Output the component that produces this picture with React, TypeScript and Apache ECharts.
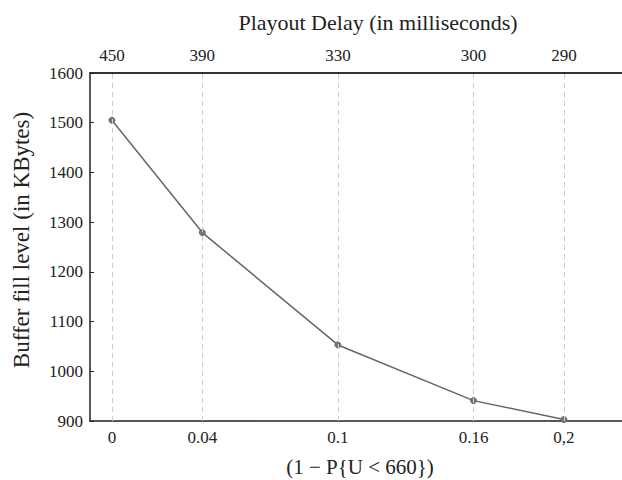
import React, { useEffect, useRef } from "react";
import * as echarts from "echarts";

const xValues = [0, 0.04, 0.1, 0.16, 0.2];
const xTickLabels = ["0", "0.04", "0.1", "0.16", "0,2"];
const delayLabels = ["450", "390", "330", "300", "290"];
const bufferLevels = [1505, 1279, 1053, 941, 903];
const yTicks = [900, 1000, 1100, 1200, 1300, 1400, 1500, 1600];

const FONT = "'Liberation Serif', 'DejaVu Serif', 'Times New Roman', serif";

function labelFor(value: number, labels: string[]) {
  let best = 0;
  let bestD = Infinity;
  xValues.forEach((v, i) => {
    const d = Math.abs(v - value);
    if (d < bestD) {
      bestD = d;
      best = i;
    }
  });
  return labels[best];
}

export default function App() {
  const ref = useRef<HTMLDivElement>(null);
  useEffect(() => {
    if (!ref.current) return;
    const chart = echarts.init(ref.current, null, { renderer: "svg" });
    const xMin = -0.0097;
    const xMax = 0.2257;
    const axisLine = { show: true, onZero: false, lineStyle: { color: "#222", width: 1.5 } };
    const tick = { show: true, inside: true, length: 3, lineStyle: { color: "#222", width: 1 }, customValues: xValues };
    chart.setOption({
      animation: false,
      backgroundColor: "#fff",
      textStyle: { fontFamily: FONT },
      grid: { left: 90, right: 0, top: 73, bottom: 59, containLabel: false },
      title: {
        text: "Playout Delay (in milliseconds)",
        left: 373,
        top: 6,
        textAlign: "center",
        textStyle: { fontFamily: FONT, fontSize: 22, fontWeight: "normal", color: "#222" },
      },
      graphic: [
        {
          type: "text",
          x: 21,
          y: 240,
          rotation: Math.PI / 2,
          style: {
            text: "Buffer fill level (in KBytes)",
            fontFamily: FONT,
            fontSize: 23,
            fill: "#222",
            align: "center",
            verticalAlign: "middle",
          },
        },
        {
          type: "text",
          x: 360,
          y: 467,
          style: {
            text: "(1 \u2212 P{U < 660})",
            fontFamily: FONT,
            fontSize: 21,
            fill: "#222",
            align: "center",
            verticalAlign: "middle",
          },
        },
      ],
      xAxis: [
        {
          type: "value",
          position: "bottom",
          min: xMin,
          max: xMax,
          axisLine,
          axisTick: tick,
          splitLine: { show: false },
          axisLabel: {
            customValues: xValues,
            formatter: (v: number) => labelFor(v, xTickLabels),
            fontFamily: FONT,
            fontSize: 17,
            color: "#222",
            margin: 8,
          },
        },
        {
          type: "value",
          position: "top",
          min: xMin,
          max: xMax,
          axisLine: { show: true, onZero: false, lineStyle: { color: "#333", width: 2 } },
          axisTick: tick,
          splitLine: { show: false },
          axisLabel: {
            customValues: xValues,
            formatter: (v: number) => labelFor(v, delayLabels),
            fontFamily: FONT,
            fontSize: 17,
            color: "#222",
            margin: 9,
          },
        },
      ],
      yAxis: {
        type: "value",
        min: yTicks[0],
        max: yTicks[yTicks.length - 1],
        interval: 100,
        axisLine,
        axisTick: { show: true, inside: true, length: 4, lineStyle: { color: "#222" } },
        splitLine: { show: false },
        axisLabel: {
          fontFamily: FONT,
          fontSize: 17,
          color: "#222",
          margin: 7,
          formatter: (v: number) => String(v),
        },
      },
      series: [
        {
          type: "line",
          xAxisIndex: 0,
          data: xValues.map((x, i) => [x, bufferLevels[i]]),
          symbol: "circle",
          symbolSize: 6,
          showSymbol: true,
          lineStyle: { color: "#666", width: 1.5 },
          itemStyle: { color: "#777", borderColor: "#666", borderWidth: 1 },
          markLine: {
            silent: true,
            symbol: "none",
            label: { show: false },
            lineStyle: { color: "#ccc", type: [5, 4], width: 1 },
            data: xValues.map((x) => ({ xAxis: x })),
          },
          z: 3,
        },
      ],
    });
    return () => chart.dispose();
  }, []);
  return <div ref={ref} style={{ width: 622, height: 480, position: "absolute", left: 0, top: 0 }} />;
}
